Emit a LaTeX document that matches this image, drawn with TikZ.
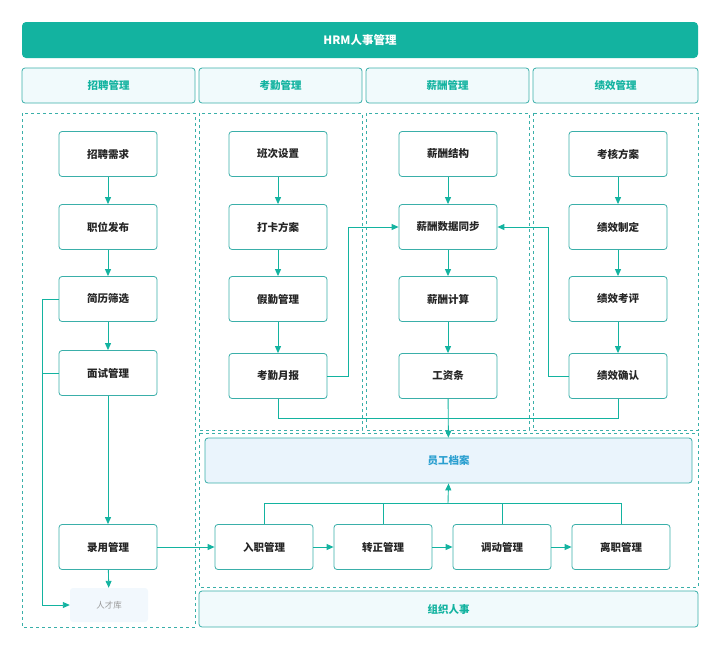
\documentclass[tikz,border=0pt]{standalone}
\usepackage{fontspec}
\setmainfont{Noto Sans CJK SC}
\usetikzlibrary{arrows.meta}
\definecolor{teal1}{HTML}{13B3A0}
\definecolor{edge}{HTML}{3AAFA9}
\definecolor{lightf}{HTML}{F1FAFC}
\definecolor{bluef}{HTML}{EAF4FC}
\definecolor{bluet}{HTML}{2B9FD0}
\begin{document}
\begin{tikzpicture}[x=1pt,y=-1pt,
  box/.style={draw=edge,line width=0.8pt,rounded corners=3pt,fill=white,minimum width=98pt,minimum height=45pt,font=\fontsize{10.5}{12}\selectfont\bfseries,text=black!85},
  hdr/.style={draw=edge,line width=0.8pt,rounded corners=3pt,fill=lightf,font=\fontsize{10.5}{12}\selectfont\bfseries,text=teal1},
  dbox/.style={draw=edge,dashed,line width=0.7pt},
  ln/.style={draw=teal1,line width=0.9pt},
  ar/.style={ln,-{Triangle[length=7pt,width=6pt]}}]
\useasboundingbox (0,0) rectangle (720,649);
\node[fill=teal1,rounded corners=4pt,minimum width=676pt,minimum height=36pt,text=white,font=\fontsize{11.5}{13}\selectfont\bfseries] (title) at (360,40) {HRM人事管理};
\node[hdr,minimum width=173pt,minimum height=35pt] (h1) at (108.5,85.5) {招聘管理};
\node[hdr,minimum width=163pt,minimum height=35pt] (h2) at (280.5,85.5) {考勤管理};
\node[hdr,minimum width=163pt,minimum height=35pt] (h3) at (447.5,85.5) {薪酬管理};
\node[hdr,minimum width=165pt,minimum height=35pt] (h4) at (615.5,85.5) {绩效管理};
\draw[dbox] (22,113) rectangle (195,627);
\draw[dbox] (199,113) rectangle (362,430);
\draw[dbox] (366,113) rectangle (529,430);
\draw[dbox] (533,113) rectangle (698,430);
\draw[dbox] (199,433) rectangle (698,587);
\node[hdr,minimum width=499pt,minimum height=36pt] (org) at (448.5,609) {组织人事};
\node[draw=edge,line width=0.8pt,rounded corners=3pt,fill=bluef,minimum width=487pt,minimum height=45pt,text=bluet,font=\fontsize{10.5}{12}\selectfont\bfseries] (yg) at (448.5,460.5) {员工档案};
% col1
\node[box] (a1) at (108,154) {招聘需求};
\node[box] (a2) at (108,227) {职位发布};
\node[box] (a3) at (108,299) {简历筛选};
\node[box] (a4) at (108,373) {面试管理};
\node[box] (a5) at (108,547) {录用管理};
\node[fill=bluef!60,rounded corners=3pt,minimum width=78pt,minimum height=34pt,text=black!40,font=\fontsize{8.5}{10}\selectfont] (tk) at (109,605) {人才库};
% col2
\node[box] (b1) at (278,154) {班次设置};
\node[box] (b2) at (278,227) {打卡方案};
\node[box] (b3) at (278,299) {假勤管理};
\node[box] (b4) at (278,376) {考勤月报};
% col3
\node[box] (c1) at (448,154) {薪酬结构};
\node[box] (c2) at (448,227) {薪酬数据同步};
\node[box] (c3) at (448,299) {薪酬计算};
\node[box] (c4) at (448,376) {工资条};
% col4
\node[box] (d1) at (618,154) {考核方案};
\node[box] (d2) at (618,227) {绩效制定};
\node[box] (d3) at (618,299) {绩效考评};
\node[box] (d4) at (618,376) {绩效确认};
% bottom
\node[box] (e1) at (264,547) {入职管理};
\node[box] (e2) at (383,547) {转正管理};
\node[box] (e3) at (502,547) {调动管理};
\node[box] (e4) at (621,547) {离职管理};
% arrows
\foreach \p/\q in {a1/a2,a2/a3,a3/a4,a4/a5,a5/tk,b1/b2,b2/b3,b3/b4,c1/c2,c2/c3,c3/c4,d1/d2,d2/d3,d3/d4,c4/yg}
  \draw[ar] (\p) -- (\q);
\draw[ar] (b4.east) -| (348,227) -- (c2.west);
\draw[ar] (d4.west) -| (548,227) -- (c2.east);
\draw[ln] (b4.south) |- (448,418);
\draw[ln] (d4.south) |- (448,418);
\draw[ln] (a3.west) -| (42,373);
\draw[ln] (a4.west) -- (42,373);
\draw[ar] (42,373) |- (tk.west);
\draw[ar] (a5.east) -- (e1.west);
\draw[ar] (e1) -- (e2);
\draw[ar] (e2) -- (e3);
\draw[ar] (e3) -- (e4);
\draw[ln] (e1.north) |- (448,503);
\draw[ln] (e4.north) |- (448,503);
\draw[ln] (e2.north) -- (383,503);
\draw[ln] (e3.north) -- (502,503);
\draw[ar] (448,503) -- (yg.south);
\end{tikzpicture}
\end{document}
